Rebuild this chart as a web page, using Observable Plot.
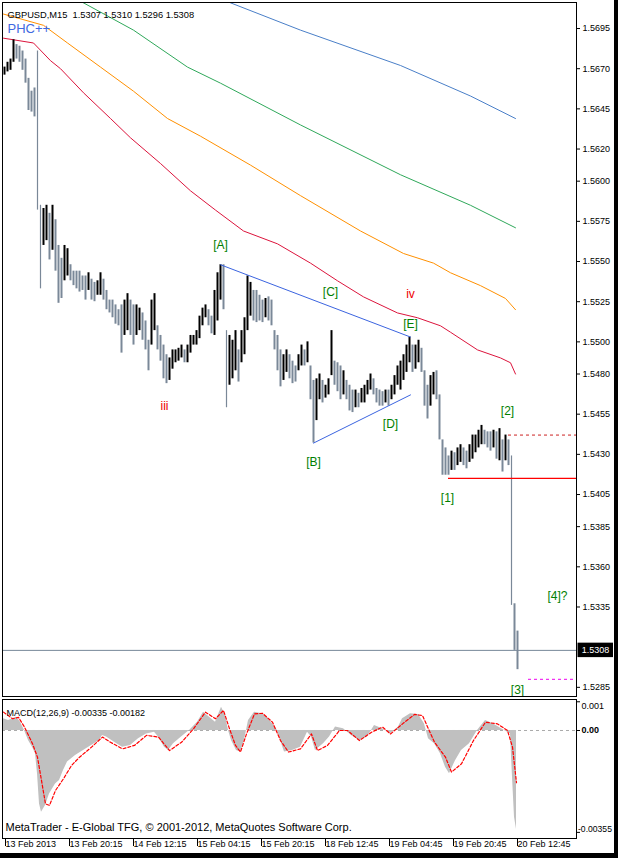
<!DOCTYPE html>
<html><head><meta charset="utf-8">
<script src="https://cdn.jsdelivr.net/npm/d3@7"></script>
<script src="https://cdn.jsdelivr.net/npm/@observablehq/plot@0.6"></script>
<style>
html,body{margin:0;padding:0;background:#fff}
body{width:618px;height:858px;overflow:hidden;position:relative;font-family:"Liberation Sans",Arial,sans-serif}
#main{position:absolute;left:0;top:0}
#macd{position:absolute;left:0;top:698px}
.edge-r{position:absolute;left:614px;top:0;width:4px;height:858px;background:#000}
.edge-b{position:absolute;left:0;top:853px;width:618px;height:5px;background:#000}
</style></head><body>
<div id="main"></div><div id="macd"></div>
<div class="edge-r"></div><div class="edge-b"></div>
<script>
// ---------- DATA ----------
const headerText = "GBPUSD,M15  1.5307 1.5310 1.5296 1.5308";
const indicatorName = "PHC++";
const macdTitle = "MACD(12,26,9) -0.00335 -0.00182";
const copyright = "MetaTrader - E-Global TFG, \u00A9 2001-2012, MetaQuotes Software Corp.";

// price bars, one entry per 3 M15 bars (high / low)
const highs = [1.5671,1.5674,1.5676,1.5688,1.5685,1.5684,1.5681,1.5676,1.5664,1.5656,
1.5658,1.5681,1.5585,1.5583,1.5585,1.5580,1.5585,1.5576,1.5560,1.5552,
1.5560,1.5558,1.5548,1.5544,1.5544,1.5544,1.5541,1.5541,1.5543,1.5539,
1.5537,1.5538,1.5543,1.5539,1.5532,1.5526,1.5526,1.5523,1.5520,1.5523,
1.5526,1.5530,1.5526,1.5523,1.5523,1.5521,1.5518,1.5513,1.5501,1.5526,
1.5530,1.5510,1.5504,1.5498,1.5492,1.5490,1.5495,1.5495,1.5496,1.5498,
1.5495,1.5498,1.5504,1.5504,1.5507,1.5516,1.5521,1.5523,1.5520,1.5516,
1.5532,1.5543,1.5548,1.5548,1.5507,1.5504,1.5501,1.5507,1.5495,1.5507,
1.5515,1.5541,1.5537,1.5532,1.5532,1.5529,1.5526,1.5527,1.5528,1.5526,
1.5507,1.5504,1.5495,1.5492,1.5495,1.5492,1.5488,1.5485,1.5492,1.5498,
1.5495,1.5500,1.5485,1.5476,1.5477,1.5480,1.5476,1.5473,1.5477,1.5507,
1.5488,1.5487,1.5485,1.5482,1.5476,1.5473,1.5470,1.5470,1.5468,1.5471,
1.5473,1.5476,1.5480,1.5477,1.5471,1.5470,1.5469,1.5470,1.5470,1.5473,
1.5479,1.5485,1.5488,1.5492,1.5498,1.5503,1.5498,1.5498,1.5501,1.5496,
1.5482,1.5473,1.5479,1.5481,1.5482,1.5467,1.5439,1.5434,1.5429,1.5432,
1.5431,1.5434,1.5436,1.5434,1.5432,1.5436,1.5442,1.5442,1.5445,1.5448,
1.5445,1.5444,1.5444,1.5445,1.5444,1.5446,1.5439,1.5442,1.5439,1.5429,
1.5337,1.5320];
const lows = [1.5666,1.5668,1.5669,1.5674,1.5676,1.5674,1.5669,1.5661,1.5644,1.5643,
1.5640,1.5582,1.5533,1.5560,1.5563,1.5551,1.5557,1.5544,1.5524,1.5527,
1.5538,1.5541,1.5538,1.5535,1.5533,1.5531,1.5532,1.5526,1.5532,1.5526,
1.5525,1.5529,1.5529,1.5526,1.5520,1.5518,1.5515,1.5511,1.5510,1.5493,
1.5504,1.5507,1.5504,1.5498,1.5504,1.5507,1.5501,1.5495,1.5482,1.5498,
1.5507,1.5495,1.5488,1.5477,1.5474,1.5476,1.5483,1.5487,1.5488,1.5490,
1.5487,1.5487,1.5493,1.5498,1.5498,1.5502,1.5510,1.5515,1.5510,1.5505,
1.5504,1.5513,1.5526,1.5520,1.5459,1.5473,1.5477,1.5482,1.5475,1.5487,
1.5492,1.5507,1.5516,1.5513,1.5512,1.5513,1.5512,1.5515,1.5513,1.5510,
1.5495,1.5482,1.5472,1.5476,1.5481,1.5477,1.5474,1.5475,1.5482,1.5485,
1.5485,1.5487,1.5464,1.5437,1.5451,1.5464,1.5462,1.5465,1.5467,1.5479,
1.5473,1.5469,1.5464,1.5467,1.5464,1.5457,1.5456,1.5459,1.5459,1.5462,
1.5462,1.5467,1.5470,1.5467,1.5462,1.5460,1.5460,1.5462,1.5460,1.5464,
1.5467,1.5473,1.5470,1.5476,1.5481,1.5487,1.5481,1.5483,1.5487,1.5481,
1.5460,1.5452,1.5460,1.5467,1.5464,1.5439,1.5417,1.5417,1.5417,1.5420,
1.5420,1.5423,1.5425,1.5423,1.5421,1.5425,1.5427,1.5431,1.5434,1.5436,
1.5436,1.5434,1.5432,1.5434,1.5427,1.5426,1.5419,1.5426,1.5423,1.5336,
1.5308,1.5296];
const barsPerEntry = 3;

// moving averages (bar index, price)
const maRedBar = [0,30,47,57,80,107,127,157,187,212,240,274,307,334,360,394,414,437,447,474,497,507,512];
const maRedVal = [1.5689,1.5686,1.5675,1.5670,1.5655,1.5639,1.5627,1.5611,1.5594,1.5582,1.5569,1.5561,1.5549,1.5538,1.5528,1.5518,1.5515,1.5510,1.5506,1.5495,1.5490,1.5487,1.5480];
const maOrangeBar = [0,40,64,97,130,164,197,247,297,357,400,430,447,477,502,512];
const maOrangeVal = [1.5704,1.5697,1.5686,1.5671,1.5656,1.5639,1.5628,1.5610,1.5591,1.5569,1.5555,1.5549,1.5543,1.5535,1.5527,1.5520];
const maGreenBar = [77,130,184,217,297,397,467,512];
const maGreenVal = [1.5712,1.5694,1.5671,1.5661,1.5635,1.5604,1.5585,1.5571];
const maBlueBar = [227,297,397,467,512];
const maBlueVal = [1.5711,1.5694,1.5672,1.5653,1.5639];

// wave labels
const greenLabels = ["[A]","[B]","[C]","[D]","[E]","[1]","[2]","[3]","[4]?"];
const greenLabelBar = [217,310,327,387,407,444,504,514,554];
const greenLabelPrice = [1.5560,1.5425,1.5531,1.5449,1.5511,1.5403,1.5457,1.5283,1.5342];
const redLabels = ["iii","iv"];
const redLabelBar = [161,407];
const redLabelPrice = [1.5460,1.5530];

// triangle trendlines
const triUpperBar = [217,407], triUpperPrice = [1.5548,1.5503];
const triLowerBar = [310,407], triLowerPrice = [1.5437,1.5467];

// horizontal levels
const wave1Low = 1.5415, wave1Bar = 445;
const wave2High = 1.5442, wave2Bar = 505;
const targetLevel = 1.5290, targetFrom = 525, targetTo = 570;
const lastPrice = 1.5308;
const lastBar = 573;

const priceTicks = [1.5695,1.5670,1.5645,1.5620,1.5600,1.5575,1.5550,1.5525,1.5500,1.5480,1.5455,1.5430,1.5405,1.5385,1.5360,1.5335,1.5285];

// MACD histogram and signal (bar index, value)
const histBar = [0,5,13,17,21,25,29,32,34,36,38,42,46,52,56,60,64,72,80,88,96,99,103,111,119,127,135,143,151,155,161,165,170,178,186,194,200,206,212,218,222,225,228,233,237,241,245,251,259,265,273,277,281,289,297,304,308,312,320,326,332,340,348,356,364,371,379,387,395,399,407,415,421,425,431,437,442,446,452,458,466,474,482,490,498,504,507,509,511,513];
const histVal = [0.00041,0.00035,0.00046,0.00029,0,-0.00035,-0.00058,-0.00081,-0.00151,-0.00256,-0.00285,-0.00261,-0.00221,-0.00186,-0.00174,-0.00139,-0.00110,-0.00087,-0.00070,-0.00052,-0.00035,-0.00017,-0.00023,-0.00041,-0.00058,-0.00052,-0.00029,-0.00012,-0.00006,-0.00023,-0.00058,-0.00070,-0.00046,-0.00023,0,0.00029,0.00064,0.00046,0.00029,0.00081,0.00052,0,-0.00035,-0.00070,-0.00075,-0.00035,0.00035,0.00064,0.00058,0.00041,0.00006,-0.00035,-0.00075,-0.00070,-0.00058,-0.00006,-0.00023,-0.00070,-0.00046,-0.00023,0.00012,0.00006,-0.00017,-0.00035,-0.00023,0.00017,0.00006,-0.00012,0.00012,0.00041,0.00058,0.00056,0.00023,-0.00029,-0.00046,-0.00081,-0.00128,-0.00151,-0.00105,-0.00070,-0.00046,0,0.00035,0.00023,0.00006,-0.00006,-0.00012,-0.00163,-0.00302,-0.00345];
const sigBar = [0,9,15,21,29,34,38,42,46,52,60,68,76,88,99,107,119,131,143,155,166,178,190,202,212,220,226,232,237,243,251,259,269,277,285,297,308,314,324,336,344,356,368,379,387,399,411,419,431,442,448,458,470,482,494,504,509,513];
const sigVal = [0.00064,0.00041,0.00046,0.00012,-0.00046,-0.00093,-0.00174,-0.00256,-0.00261,-0.00209,-0.00168,-0.00122,-0.00093,-0.00058,-0.00023,-0.00041,-0.00064,-0.00052,-0.00017,-0.00023,-0.00070,-0.00041,0.00006,0.00064,0.00041,0.00070,0.00006,-0.00052,-0.00075,-0.00012,0.00058,0.00060,0.00029,-0.00035,-0.00075,-0.00064,-0.00012,-0.00070,-0.00052,0,0,-0.00035,-0.00006,0.00012,-0.00012,0.00023,0.00056,0.00052,-0.00041,-0.00093,-0.00145,-0.00116,-0.00035,0.00029,0.00023,0,-0.00058,-0.00182];
const macdTicks = [0.001, 0, -0.00355];
const macdTickText = ["0.001", "0.00", "-0.00355"];

const timeTickBar = [0,64,128,192,256,320,384,448,512];
const timeLabels = ["13 Feb 2013","13 Feb 20:15","14 Feb 12:15","15 Feb 04:15","15 Feb 20:15","18 Feb 12:45","19 Feb 04:45","19 Feb 20:45","20 Feb 12:45"];

// ---------- BUILD ----------
const FONT = "'Liberation Sans', Arial, sans-serif";
const bars = highs.map((h, i) => ({b: barsPerEntry * i + 1, h, l: lows[i]}));
bars.forEach((d, i) => { d.up = i === 0 || (d.h + d.l) >= (bars[i-1].h + bars[i-1].l); });
const zip = (xs, ys) => xs.map((x, i) => ({x, y: ys[i]}));
const greenL = greenLabels.map((t, i) => ({t, x: greenLabelBar[i], y: greenLabelPrice[i]}));
const redL = redLabels.map((t, i) => ({t, x: redLabelBar[i], y: redLabelPrice[i]}));

const xDomain = [-1, 573];

const main = Plot.plot({
  width: 618, height: 698,
  marginLeft: 2, marginRight: 42, marginTop: 2, marginBottom: 2,
  x: {domain: xDomain, axis: null},
  y: {domain: [1.52793, 1.57112], axis: null},
  style: {fontFamily: FONT, background: "transparent", overflow: "visible"},
  marks: [
    Plot.line(zip(maBlueBar, maBlueVal), {x: "x", y: "y", stroke: "#4a7fc8", strokeWidth: 1, clip: true}),
    Plot.line(zip(maGreenBar, maGreenVal), {x: "x", y: "y", stroke: "#2fa85a", strokeWidth: 1, clip: true}),
    Plot.line(zip(maOrangeBar, maOrangeVal), {x: "x", y: "y", stroke: "#ff9000", strokeWidth: 1, clip: true}),
    Plot.line(zip(maRedBar, maRedVal), {x: "x", y: "y", stroke: "#dc143c", strokeWidth: 1, clip: true}),
    Plot.ruleY([lastPrice], {x1: xDomain[0], x2: lastBar, stroke: "#778899", strokeWidth: 1}),
    Plot.ruleX(bars, {x: "b", y1: "l", y2: "h", stroke: d => d.up ? "#000000" : "#7a8898",
      strokeWidth: d => (d.h - d.l) > 0.004 ? 1.2 : 2}),
    Plot.line(zip(triUpperBar, triUpperPrice), {x: "x", y: "y", stroke: "#3b64e0", strokeWidth: 1}),
    Plot.line(zip(triLowerBar, triLowerPrice), {x: "x", y: "y", stroke: "#3b64e0", strokeWidth: 1}),
    Plot.ruleY([wave1Low], {x1: wave1Bar, x2: lastBar, stroke: "#ff0000", strokeWidth: 1.3}),
    Plot.ruleY([wave2High], {x1: wave2Bar, x2: lastBar, stroke: "#cc2222", strokeWidth: 1, strokeDasharray: "3,3"}),
    Plot.ruleY([targetLevel], {x1: targetFrom, x2: targetTo, stroke: "#ee00ee", strokeWidth: 1, strokeDasharray: "3,3"}),
    Plot.text(greenL, {x: "x", y: "y", text: "t", fill: "#008000", fontSize: 12}),
    Plot.text(redL, {x: "x", y: "y", text: "t", fill: "#ee0000", fontSize: 12}),
    Plot.frame({stroke: "#000", strokeWidth: 1}),
    Plot.axisY(priceTicks, {anchor: "right", tickSize: 3, tickPadding: 3, fontSize: 9,
      tickFormat: d => d.toFixed(4), label: null}),
    Plot.rect([lastPrice], {x1: lastBar + 1.5, x2: lastBar + 37, y1: d => d - 0.00045, y2: d => d + 0.00045, fill: "#000"}),
    Plot.text([lastPrice], {x: lastBar + 19, y: d => d, text: d => d.toFixed(4), fill: "#fff", fontSize: 9}),
    Plot.text([headerText], {frameAnchor: "top-left", dx: 5, dy: 9, textAnchor: "start", fontSize: 9.3, fill: "#000"}),
    Plot.text([indicatorName], {frameAnchor: "top-left", dx: 5, dy: 21, textAnchor: "start", fontSize: 13, fill: "#4169e1"})
  ]
});
document.getElementById("main").appendChild(main);

const macd = Plot.plot({
  width: 618, height: 160,
  marginLeft: 2, marginRight: 42, marginTop: 1, marginBottom: 20,
  x: {domain: xDomain, axis: null},
  y: {domain: [-0.003763, 0.001080], axis: null},
  style: {fontFamily: FONT, background: "transparent", overflow: "visible"},
  marks: [
    Plot.ruleY([0], {stroke: "#aaaaaa", strokeDasharray: "3,3"}),
    Plot.areaY(zip(histBar, histVal), {x: "x", y: "y", fill: "#c0c0c0"}),
    Plot.line(zip(sigBar, sigVal), {x: "x", y: "y", stroke: "#ff0000", strokeWidth: 1.2, strokeDasharray: "3,2"}),
    Plot.frame({stroke: "#000", strokeWidth: 1}),
    Plot.axisY(macdTicks, {anchor: "right", tickSize: 3, text: null, label: null}),
    Plot.text([macdTicks[0]], {x: xDomain[1], y: d => d, dx: 5, dy: 4, textAnchor: "start", text: () => macdTickText[0], fontSize: 9}),
    Plot.text([macdTicks[1]], {x: xDomain[1], y: d => d, dx: 5, dy: 0, textAnchor: "start", text: () => macdTickText[1], fontSize: 9, fontWeight: "bold"}),
    Plot.text([macdTicks[2]], {x: xDomain[1], y: d => d, dx: 1.5, dy: -3, textAnchor: "start", text: () => macdTickText[2], fontSize: 8.6}),
    Plot.axisX(timeTickBar, {anchor: "bottom", tickSize: 8, tickPadding: -5.5, textAnchor: "start", dx: 2,
      tickFormat: d => timeLabels[timeTickBar.indexOf(d)], fontSize: 9, label: null}),
    Plot.text([macdTitle], {frameAnchor: "top-left", dx: 4, dy: 10, textAnchor: "start", fontSize: 9}),
    Plot.text([copyright], {frameAnchor: "bottom-left", dx: 3, dy: -8, textAnchor: "start", fontSize: 11})
  ]
});
document.getElementById("macd").appendChild(macd);
</script>
</body></html>
